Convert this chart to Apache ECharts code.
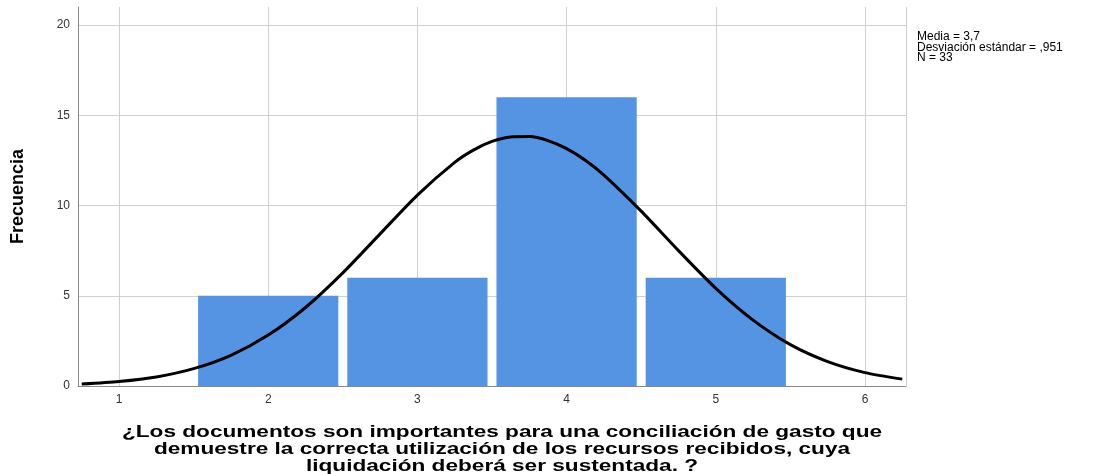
<!DOCTYPE html>
<html>
<head>
<meta charset="utf-8">
<script src="https://cdn.jsdelivr.net/npm/echarts@6/dist/echarts.min.js"></script>
<style>
  html, body { margin: 0; padding: 0; background: #fff; }
  #main { width: 1109px; height: 474px; }
</style>
</head>
<body>
<div id="main"></div>
<script>
// categorias (respuestas) y frecuencias
var categorias = [2, 3, 4, 5];
var frecuencias = [5, 6, 16, 6];
// curva normal
var curvaX = [0.75, 1, 1.25, 1.5, 1.75, 2, 2.25, 2.5, 2.75, 3, 3.25, 3.375, 3.5, 3.625, 3.75, 3.875, 4, 4.125, 4.25, 4.5, 4.75, 5, 5.25, 5.5, 5.75, 6, 6.25];
var curvaY = [0.11, 0.25, 0.5, 0.96, 1.7, 2.82, 4.35, 6.27, 8.43, 10.58, 12.39, 13.07, 13.55, 13.8, 13.82, 13.6, 13.15, 12.51, 11.69, 9.69, 7.5, 5.41, 3.65, 2.29, 1.35, 0.74, 0.38];
var etiquetasX = [1, 2, 3, 4, 5, 6];
var etiquetasY = [0, 5, 10, 15, 20];
var estadisticos = ['Media = 3,7', 'Desviación estándar = ,951', 'N = 33'];
var tituloX = '¿Los documentos son importantes para una conciliación de gasto que\ndemuestre la correcta utilización de los recursos recibidos, cuya\nliquidación deberá ser sustentada. ?';

var myChart = echarts.init(document.getElementById('main'));

var datosBarras = categorias.map(function (c, i) { return [c, frecuencias[i]]; });
var datosCurva = curvaX.map(function (x, i) { return [x, curvaY[i]]; });

function esEtiqueta(lista, v) {
    for (var i = 0; i < lista.length; i++) {
        if (Math.abs(lista[i] - v) < 1e-6) return true;
    }
    return false;
}

myChart.setOption({
    animation: false,
    grid: { left: 78, right: 203, top: 7, bottom: 88 },
    xAxis: {
        type: 'value',
        min: 0.725,
        max: 6.275,
        splitNumber: 5,
        axisLine: { show: true, lineStyle: { color: '#888', width: 1 } },
        axisTick: { show: false },
        axisLabel: {
            color: '#333', fontSize: 12, fontFamily: 'Liberation Sans', margin: 8,
            showMinLabel: false, showMaxLabel: false,
            formatter: function (v) { return esEtiqueta(etiquetasX, v) ? String(Math.round(v)) : ''; }
        },
        splitLine: { show: true, lineStyle: { color: '#cfcfcf', width: 1 } }
    },
    yAxis: {
        type: 'value',
        min: 0,
        max: 21,
        interval: 5,
        axisLine: { show: true, lineStyle: { color: '#888', width: 1 } },
        axisTick: { show: false },
        axisLabel: {
            color: '#333', fontSize: 12, fontFamily: 'Liberation Sans', margin: 8,
            formatter: function (v) { return esEtiqueta(etiquetasY, v) ? String(v) : ''; }
        },
        splitLine: { show: true, lineStyle: { color: ['#cfcfcf', '#cfcfcf', '#cfcfcf', '#cfcfcf', '#cfcfcf', 'transparent'], width: 1 } },
        name: 'Frecuencia',
        nameLocation: 'middle',
        nameGap: 51,
        nameTextStyle: { color: '#000', fontSize: 18, fontWeight: 'bold', fontFamily: 'Liberation Sans' }
    },
    graphic: [{
        type: 'text',
        left: 917,
        top: 31,
        style: {
            text: estadisticos.join('\n'),
            fill: '#000',
            font: '12px Liberation Sans',
            lineHeight: 10.5
        }
    }, {
        type: 'text',
        x: 502,
        y: 424,
        scaleX: 1.33,
        style: {
            text: tituloX,
            fill: '#000',
            font: 'bold 17px Liberation Sans',
            lineHeight: 17,
            align: 'center',
            verticalAlign: 'top'
        }
    }],
    series: [{
        type: 'custom',
        data: datosBarras,
        renderItem: function (params, api) {
            var x = api.value(0), y = api.value(1);
            var p1 = api.coord([x - 0.47, y]);
            var p2 = api.coord([x + 0.47, 0]);
            return {
                type: 'rect',
                shape: { x: p1[0], y: p1[1], width: p2[0] - p1[0], height: p2[1] - p1[1] },
                style: { fill: '#5594e3' }
            };
        },
        z: 2
    }, {
        type: 'line',
        data: datosCurva,
        smooth: 0.25,
        symbol: 'none',
        lineStyle: { color: '#000', width: 3 },
        z: 3
    }]
});
</script>
</body>
</html>
